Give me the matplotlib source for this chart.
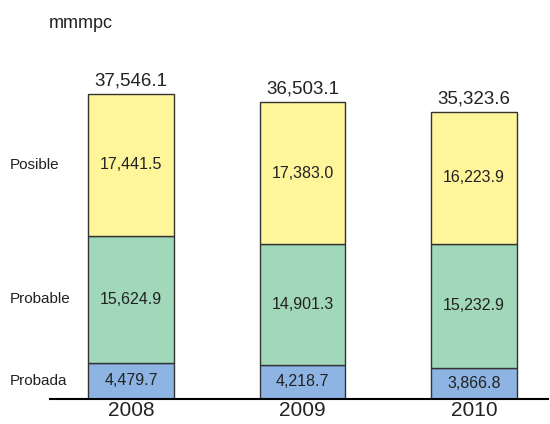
import matplotlib
matplotlib.use('Agg')
import matplotlib.pyplot as plt
import numpy as np

plt.rcParams['font.family'] = ['Liberation Sans', 'DejaVu Sans']

years = ['2008', '2009', '2010']
probada = [4479.7, 4218.7, 3866.8]
probable = [15624.9, 14901.3, 15232.9]
posible = [17441.5, 17383.0, 16223.9]
totales = [37546.1, 36503.1, 35323.6]
categorias = ['Probada', 'Probable', 'Posible']

colores = ['#8eb4e3', '#a0d8b9', '#fff59a']
txt = '#222222'

W, H = 550, 424
fig = plt.figure(figsize=(W / 100, H / 100), dpi=100)
ymax = 45000
px_per = 305 / 37546.1
ax = fig.add_axes([50 / W, 25 / H, 498 / W, ymax * px_per / H])

x = np.arange(len(years))
series = [probada, probable, posible]
bottom = np.zeros(len(years))
for vals, col in zip(series, colores):
    ax.bar(x, vals, width=0.5, bottom=bottom, color=col,
           edgecolor='#333333', linewidth=1.0, zorder=2)
    for xi, b, v in zip(x, bottom, vals):
        ax.text(xi, b + v / 2, f'{v:,.1f}', ha='center', va='center',
                fontsize=11.5, color=txt)
    bottom = bottom + np.array(vals)

for xi, t in zip(x, totales):
    ax.text(xi, t + 600, f'{t:,.1f}', ha='center', va='bottom',
            fontsize=13.5, color=txt)

# etiquetas de categoria, a la altura de los segmentos de 2008
acum = 0
for nombre, vals in zip(categorias, series):
    y = acum + vals[0] / 2
    ax.text(-0.472 + (10 - 50) / 171.5, y, nombre, ha='left', va='center',
            fontsize=11, color=txt, clip_on=False)
    acum += vals[0]

ax.set_xlim(-0.472, 2.431)
ax.set_ylim(0, ymax)
ax.set_xticks(x)
ax.set_xticklabels(years, fontsize=15, color=txt)
ax.tick_params(axis='x', length=0, pad=1.5)
ax.set_yticks([])
for s in ['top', 'right', 'left']:
    ax.spines[s].set_visible(False)
ax.spines['bottom'].set_linewidth(1.5)
ax.spines['bottom'].set_zorder(3)

fig.text(49 / W, 1 - 23 / H, 'mmmpc', ha='left', va='center', fontsize=13, color=txt)

fig.savefig('out.png', dpi=100)
